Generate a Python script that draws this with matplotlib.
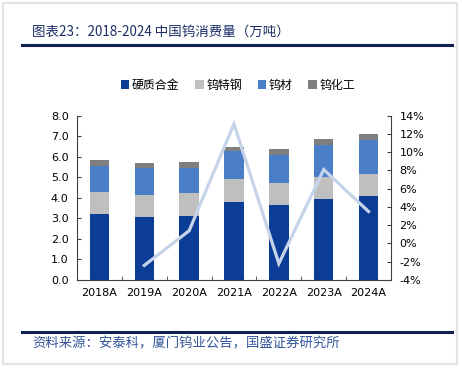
import matplotlib
matplotlib.use("Agg")
import matplotlib.pyplot as plt
from matplotlib.patches import Patch, Rectangle
from matplotlib.lines import Line2D
import numpy as np

plt.rcParams['font.family'] = ['DejaVu Sans Condensed', 'DejaVu Sans', 'Noto Sans CJK SC']

years = ["2018A", "2019A", "2020A", "2021A", "2022A", "2023A", "2024A"]
hard_alloy = [3.23, 3.05, 3.12, 3.78, 3.64, 3.96, 4.09]
special_steel = [1.07, 1.09, 1.10, 1.12, 1.08, 1.05, 1.08]
tungsten_mat = [1.25, 1.29, 1.23, 1.40, 1.37, 1.55, 1.63]
tungsten_chem = [0.28, 0.25, 0.31, 0.19, 0.27, 0.30, 0.31]
growth_years = ["2019A", "2020A", "2021A", "2022A", "2023A", "2024A"]
growth = [-2.4, 1.4, 13.1, -2.2, 8.1, 3.5]

series_names = ["硬质合金", "钨特钢", "钨材", "钨化工"]
colors = ["#0B3D97", "#BFBFBF", "#4A7EC6", "#7F7F7F"]
line_color = "#C5D4E9"
navy = "#0E2150"
cjk = ['Noto Sans CJK SC', 'DejaVu Sans']

W, H = 462, 369
fig = plt.figure(figsize=(W / 100, H / 100), dpi=100)
fig.patch.set_facecolor("white")

# outer frame
fig.add_artist(Rectangle((3 / W, 1 - 364 / H), 454 / W, 361 / H, transform=fig.transFigure,
                         fill=False, edgecolor="#E3E3E3", linewidth=1.5))
# title and rules
fig.add_artist(Line2D([22 / W, 452 / W], [1 - 45 / H, 1 - 45 / H], transform=fig.transFigure,
                      color=navy, linewidth=2.2))
fig.add_artist(Line2D([22 / W, 452 / W], [1 - 332 / H, 1 - 332 / H], transform=fig.transFigure,
                      color=navy, linewidth=2.2))
fig.text(32 / W, 1 - 31.5 / H, "图表23：2018-2024 中国钨消费量（万吨）", fontsize=9.7,
         family=cjk, color="#1B2F66", va="center", ha="left", style="italic")
fig.text(32 / W, 1 - 343 / H, "资料来源：安泰科，厦门钨业公告，国盛证券研究所", fontsize=9.6,
         family=cjk, color="#33559A", va="center", ha="left", style="italic")

ax = fig.add_axes([77 / W, 1 - 280 / H, (391 - 77) / W, (280 - 115.7) / H])
x = np.arange(len(years))
bw = 0.43
bottom = np.zeros(len(years))
for vals, c, name in zip([hard_alloy, special_steel, tungsten_mat, tungsten_chem], colors, series_names):
    ax.bar(x, vals, bw, bottom=bottom, color=c, label=name, zorder=2)
    bottom += np.array(vals)

ax.set_ylim(0, 8)
ax.set_yticks(np.arange(0, 8.01, 1.0))
ax.set_yticklabels([f"{v:.1f}" for v in np.arange(0, 8.01, 1.0)])
ax.set_xlim(-0.5, len(years) - 0.5)
ax.set_xticks(x)
ax.set_xticklabels(years)
ax.set_xticks(np.arange(-0.5, len(years), 1.0), minor=True)
ax.tick_params(axis="x", which="major", length=0, labelsize=8, pad=6, colors="black")
ax.tick_params(axis="x", which="minor", length=3, direction="in", color="#404040")
ax.tick_params(axis="y", length=3, direction="in", labelsize=8, color="#404040", pad=6)
for s in ["top", "right"]:
    ax.spines[s].set_visible(False)
ax.spines["left"].set_color("#404040")
ax.spines["bottom"].set_color("#404040")

ax2 = ax.twinx()
gx = [years.index(g) for g in growth_years]
ax2.plot(gx, growth, color=line_color, linewidth=2.3, zorder=3, solid_joinstyle="miter")
ax2.set_ylim(-4, 14)
ax2.set_yticks(np.arange(-4, 14.01, 2))
ax2.set_yticklabels([f"{int(v)}%" for v in np.arange(-4, 14.01, 2)])
ax2.tick_params(axis="y", length=3, direction="in", labelsize=8, color="#404040", pad=6)
for s in ["top", "left", "bottom"]:
    ax2.spines[s].set_visible(False)
ax2.spines["right"].set_color("#404040")

handles = [Patch(facecolor=c, edgecolor="none") for c in colors]
fig.legend(handles, series_names, loc="center", bbox_to_anchor=(238 / W, 1 - 85 / H), ncol=4,
           frameon=False, handlelength=0.7, handleheight=0.7, handletextpad=0.25,
           columnspacing=1.3, prop={'family': cjk, 'size': 8.6})

fig.savefig("out.png", dpi=100, facecolor="white")
